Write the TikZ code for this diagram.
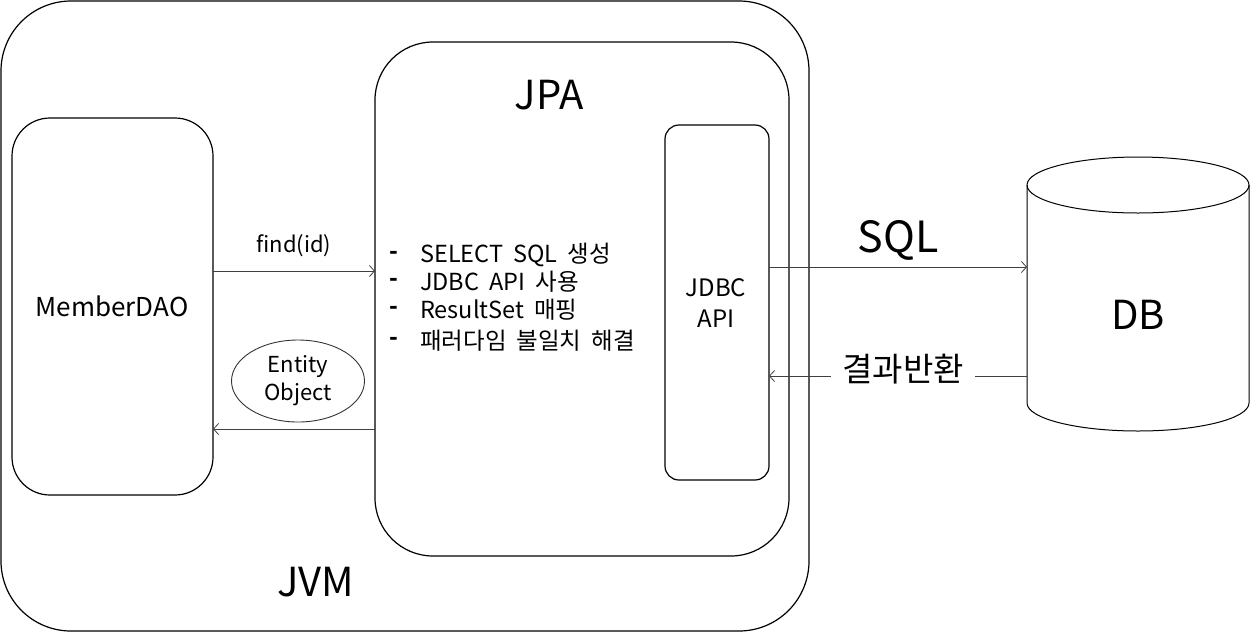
\documentclass[tikz,border=0pt]{standalone}
\usepackage{fontspec}
\setmainfont{Noto Sans CJK KR}
\newfontfamily\bulfont[WordSpace=1.9]{Noto Sans CJK KR}
\usetikzlibrary{arrows.meta,shapes.geometric}
\tikzset{
  box/.style={draw=black, line width=1.2pt},
  conn/.style={draw=black!75, line width=0.8pt, -{Straight Barb[length=5pt,width=11pt,line width=0.8pt]}},
  txt/.style={inner sep=0pt, font=\fontsize{23}{27}\selectfont},
  big/.style={inner sep=0pt, font=\fontsize{40}{46}\selectfont},
}
\begin{document}
\begin{tikzpicture}[x=1pt,y=-1pt]
\useasboundingbox (0,0) rectangle (1250,633);
% JVM
\draw[box, rounded corners=70pt] (1,1) rectangle (809,631);
\node[big] (jvm) at (316,582) {JVM};
% JPA
\draw[box, rounded corners=58pt] (375,42) rectangle (789,556);
\coordinate (jpaW) at (375,300);
\node[big] (jpa) at (549,95) {JPA};
% MemberDAO
\draw[box, rounded corners=38pt] (12,118) rectangle (213,495);
\coordinate (daoE) at (213,300);
\node[txt, font=\fontsize{26}{30}\selectfont] (dao) at (112,306) {MemberDAO};
% JDBC API
\draw[box, rounded corners=14pt] (665,125) rectangle (769,480);
\coordinate (jdbcE) at (769,300);
\node[txt, align=center, font=\fontsize{24}{31}\selectfont] (jdbc) at (716,303) {JDBC\\API};
% Bullets
\foreach \y/\t [count=\i] in {255/SELECT SQL 생성, 282/JDBC API 사용, 310/ResultSet 매핑, 341/패러다임 불일치 해결}{
  \node[txt, anchor=west, font=\bulfont\fontsize{23.5}{27}\selectfont] (b\i) at (420,\y) {\t};
  \node[txt, anchor=west, font=\bfseries\fontsize{23}{27}\selectfont] (d\i) at (389,\y) {-};
}
% Entity object
\node[draw=black!80, line width=0.9pt, ellipse, minimum width=133pt, minimum height=82pt, inner sep=0pt,
      align=center, font=\fontsize{22}{28}\selectfont] (ent) at (298,381) {Entity\\Object};
% DB cylinder
\draw[box, line width=1pt] (1027,185) -- (1027,403) arc[start angle=180, end angle=360, x radius=111pt, y radius=28pt] -- (1249,185);
\draw[box, line width=1pt] (1138,185) ellipse[x radius=111pt, y radius=28pt];
\coordinate (dbW) at (1027,300);
\node[big] (db) at (1138,315) {DB};
% connectors
\draw[conn] (daoE |- 0,271) -- node[txt, above=14pt, font=\fontsize{22}{26}\selectfont] (find) {find(id)} (jpaW |- 0,271);
\draw[conn] (jpaW |- 0,429) -- (daoE |- 0,429);
\draw[conn] (jdbcE |- 0,267) -- (dbW |- 0,267);
\node[inner sep=0pt, font=\fontsize{43}{48}\selectfont] (sql) at (898,240) {SQL};
\draw[conn] (dbW |- 0,376) -- (jdbcE |- 0,376);
\node[inner xsep=11pt, inner ysep=0pt, fill=white, font=\fontsize{33}{37}\selectfont] (res) at (903,369) {결과반환};
\end{tikzpicture}
\end{document}
